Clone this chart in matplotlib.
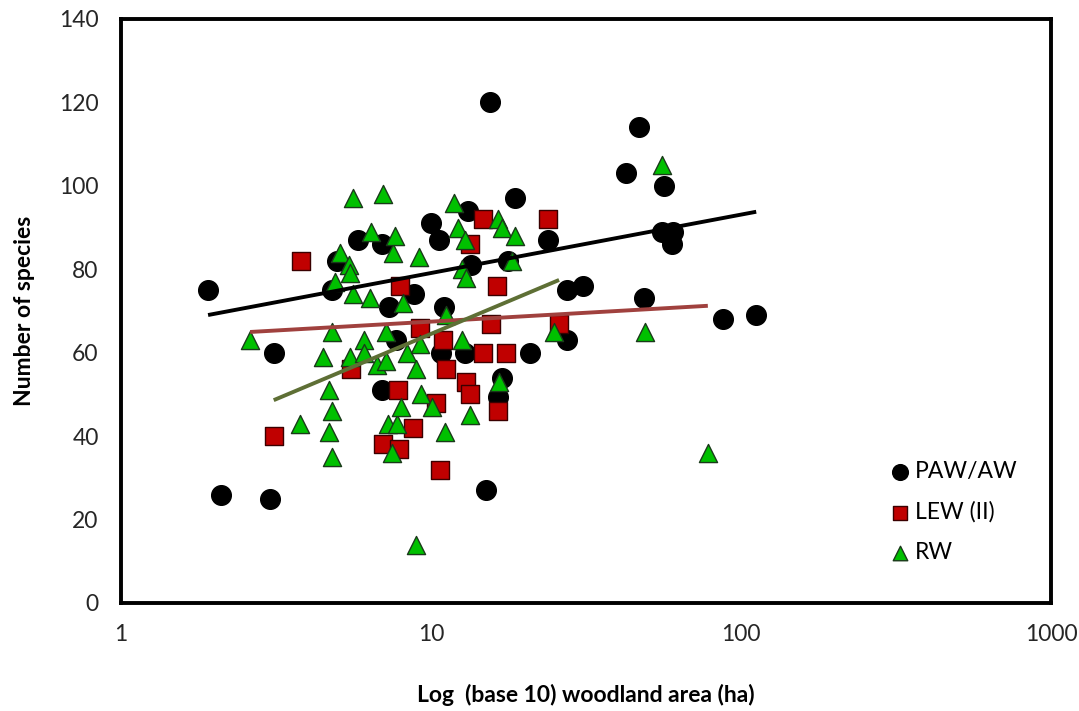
import numpy as np
import matplotlib
matplotlib.use('Agg')
import matplotlib.pyplot as plt
from matplotlib.ticker import FixedLocator, FixedFormatter, NullLocator

plt.rcParams['font.family'] = ['Lato', 'DejaVu Sans']

# PAW/AW woodlands
paw_area = [1.91, 2.11, 3.02, 3.12, 4.81, 4.98, 5.8, 6.93, 6.93, 7.3, 7.72, 8.8,
            10.0, 10.6, 11.0, 10.8, 12.9, 13.2, 13.5, 15.5, 15.1, 16.9, 16.5, 17.7,
            18.6, 20.9, 23.9, 27.4, 27.4, 31.0, 42.6, 47.0, 48.6, 55.5, 56.6, 60.5,
            60.0, 87.6, 112.0]
paw_species = [75, 26, 25, 60, 75, 82, 87, 86, 51, 71, 63, 74,
               91, 87, 71, 60, 60, 94, 81, 120, 27, 54, 49.5, 82,
               97, 60, 87, 75, 63, 76, 103, 114, 73, 89, 100, 89,
               86, 68, 69]

# LEW (II) woodlands
lew_area = [3.11, 3.81, 5.51, 6.98, 7.82, 7.91, 7.96, 8.73, 9.2, 10.4, 10.7, 10.95,
            11.2, 13.0, 13.4, 13.4, 14.7, 14.7, 15.6, 16.3, 16.5, 17.5, 23.9, 25.9]
lew_species = [40, 82, 56, 38, 51, 37, 76, 42, 66, 48, 32, 63,
               56, 53, 50, 86, 92, 60, 67, 76, 46, 60, 92, 67]

# RW woodlands
rw_area = [2.61, 3.78, 4.49, 4.69, 4.81, 4.69, 4.81, 4.81, 4.9, 5.09, 5.45, 5.48,
           5.59, 5.48, 5.59, 6.09, 6.09, 6.36, 6.39, 6.68, 6.99, 7.16, 7.16, 7.29,
           7.47, 7.56, 7.65, 7.75, 7.99, 8.1, 8.38, 8.94, 8.94, 9.17, 9.2, 9.28,
           10.1, 11.1, 11.2, 11.9, 12.2, 12.6, 12.6, 12.9, 13.0, 13.4, 16.4, 16.6,
           16.9, 18.2, 18.7, 24.9, 49.0, 55.5, 78.2]
rw_species = [63, 43, 59, 51, 46, 41, 35, 65, 77, 84, 81, 79,
              74, 59, 97, 63, 60, 73, 89, 57, 98, 65, 58, 43,
              36, 84, 88, 43, 47, 72, 60, 56, 14, 83, 62, 50,
              47, 41, 69, 96, 90, 80, 63, 87, 78, 45, 92, 53,
              90, 82, 88, 65, 65, 105, 36]

# trend lines: species = a + b * log10(area)
paw_trend = [65.1, 14.0]
lew_trend = [33.2, 31.3]
rw_trend = [63.2, 4.25]

fig = plt.figure(figsize=(10.79, 7.11), dpi=100)
ax = fig.add_axes([0.1121, 0.1519, 0.8619, 0.8214])

ax.scatter(paw_area, paw_species, s=200, marker='o', color='black',
           label='PAW/AW', zorder=3)
ax.scatter(lew_area, lew_species, s=180, marker='s', facecolor='#C00000',
           edgecolor='#3a0000', linewidth=1, label='LEW (II)', zorder=4)
ax.scatter(rw_area, rw_species, s=170, marker='^', facecolor='#00C000',
           edgecolor='#1a3a1a', linewidth=1, label='RW', zorder=5)


# each trend line spans the area range of its own series
def trend(xs, coef, color):
    lx = np.log10([min(xs), max(xs)])
    ax.plot(10 ** lx, coef[0] + coef[1] * lx, color=color, lw=2.8, zorder=6,
            solid_capstyle='butt')


trend(paw_area, paw_trend, 'black')
trend(rw_area, rw_trend, '#A0413E')
trend(lew_area, lew_trend, '#5E6F35')

ax.set_xscale('log')
ax.set_xlim(1, 1000)
ax.set_ylim(0, 140)
ax.xaxis.set_major_locator(FixedLocator([1, 10, 100, 1000]))
ax.xaxis.set_major_formatter(FixedFormatter(['1', '10', '100', '1000']))
ax.xaxis.set_minor_locator(NullLocator())
ax.set_yticks(range(0, 141, 20))
ax.tick_params(axis='both', length=0, labelsize=16.5, colors='#262626')
ax.tick_params(axis='x', pad=15)
ax.tick_params(axis='y', pad=16)
for sp in ax.spines.values():
    sp.set_linewidth(2.8)
    sp.set_color('black')

ax.set_ylabel('Number of species', fontsize=16.5, fontweight='bold', labelpad=17)
ax.set_xlabel('Log  (base 10) woodland area (ha)', fontsize=16.5,
              fontweight='bold', labelpad=28)

ax.legend(loc='center', bbox_to_anchor=(0.895, 0.156), frameon=False,
          fontsize=16.5, handlelength=1.0, handletextpad=0.15,
          labelspacing=0.85, markerscale=0.8)

fig.savefig('out.png', dpi=100)
